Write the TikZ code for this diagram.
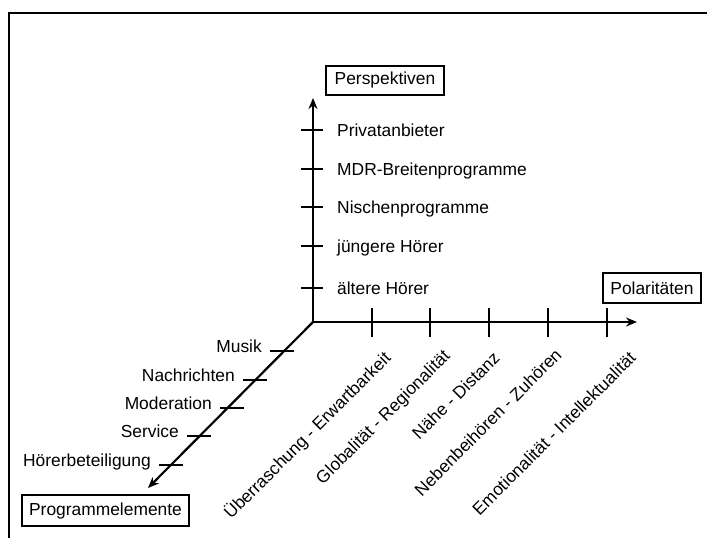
\documentclass[tikz,border=0pt]{standalone}
\usepackage{fontspec}
\setmainfont{Liberation Sans}
\usetikzlibrary{arrows.meta}
\tikzset{axtip/.tip={Stealth[length=11pt,width=9pt]}}
\begin{document}
\begin{tikzpicture}[x=1pt,y=-1pt,
  lbl/.style={inner sep=0pt, font=\fontsize{17.4}{20}\selectfont},
  box/.style={draw, line width=1.3pt, inner sep=0pt, font=\fontsize{17.4}{20}\selectfont},
  axisline/.style={line width=2.6pt},
  tickline/.style={line width=2.6pt}]
\useasboundingbox (0,0) rectangle (707,538);
% frame
\draw[line width=1.6pt] (707,13) -- (9,13) -- (9,538);
% axes
\coordinate (O) at (313,322);
\coordinate (vtop) at (313,98);
\coordinate (hend) at (637,322);
\coordinate (dend) at (148,488);
\draw[axisline, axtip-axtip] (vtop) -- (O) -- (hend);
\draw[line width=2.2pt, -axtip] (O) -- (dend);
% boxes
\node[box, minimum width=118pt, minimum height=29pt] (persp) at (385,80.5) {Perspektiven};
\node[box, minimum width=98pt, minimum height=30pt] (polar) at (652,288) {Polaritäten};
\node[box, minimum width=167pt, minimum height=31pt] (prog) at (105.5,510.5) {Programmelemente};
% vertical ticks and labels
\foreach \y/\t [count=\i] in {130/Privatanbieter, 169/MDR-Breitenprogramme, 207/Nischenprogramme, 246/jüngere Hörer, 288/ältere Hörer}{
  \coordinate (va\i) at (301,\y);
  \coordinate (vb\i) at (323,\y);
  \draw[tickline] (va\i) -- (vb\i);
  \node[lbl, anchor=base west] (vl\i) at (337,\y+6.2) {\t};
}
% horizontal ticks
\foreach \x [count=\i] in {372,430,489,548,607}{
  \coordinate (ha\i) at (\x,308);
  \coordinate (hb\i) at (\x,337);
  \draw[tickline] (ha\i) -- (hb\i);
}
\node[lbl, rotate=45, anchor=base east] (hl1) at (392,359) {Überraschung - Erwartbarkeit};
\node[lbl, rotate=45, anchor=base east] (hl2) at (451,357) {Globalität - Regionalität};
\node[lbl, rotate=45, anchor=base east] (hl3) at (501,359) {Nähe - Distanz};
\node[lbl, rotate=45, anchor=base east] (hl4) at (563,356) {Nebenbeihören - Zuhören};
\node[lbl, rotate=45, anchor=base east] (hl5) at (637,359) {Emotionalität - Intellektualität};
% diagonal ticks and labels
\foreach \xl/\y/\t [count=\i] in {270/351/Musik, 243/380/Nachrichten, 220/408/Moderation, 187/436/Service, 159/465/Hörerbeteiligung}{
  \coordinate (da\i) at (\xl,\y);
  \coordinate (db\i) at (\xl+24,\y);
  \draw[tickline] (da\i) -- (db\i);
  \node[lbl, anchor=base east] (dl\i) at (\xl-8,\y+1) {\t};
}
\end{tikzpicture}
\end{document}
